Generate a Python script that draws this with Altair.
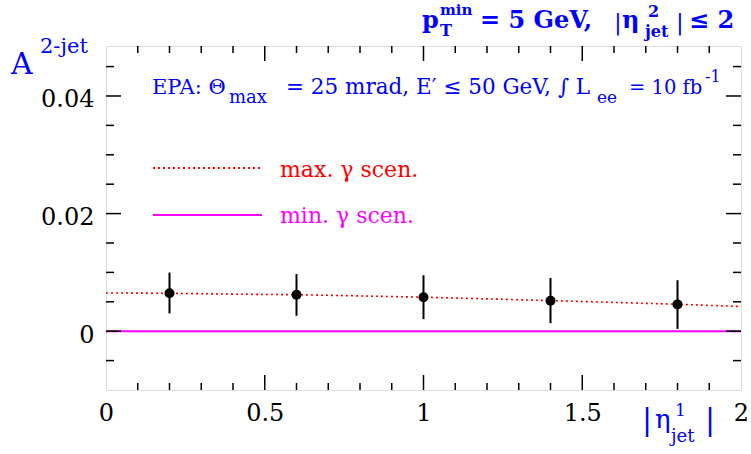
import altair as alt
import pandas as pd

# ---------------- data ----------------
pt_eta = [0.2, 0.6, 1.0, 1.4, 1.8]
pt_val = [0.00644, 0.0062, 0.00576, 0.00518, 0.00456]
pt_lo = [0.00302, 0.00262, 0.00205, 0.00137, 0.00039]
pt_hi = [0.00997, 0.00974, 0.00952, 0.00906, 0.00867]

line_eta = [0.0, 0.2, 0.4, 0.6, 0.8, 1.0, 1.2, 1.4, 1.6, 1.8, 2.0]
max_scen = [0.0065, 0.00645, 0.0063, 0.0062, 0.0060, 0.00578, 0.0055, 0.0052, 0.0049, 0.00458, 0.0042]
min_scen = [0.0, 0.0, 0.0, 0.0, 0.0, 0.0, 0.0, 0.0, 0.0, 0.0, 0.0]

x_major = [0.5, 1.0, 1.5]
x_minor = [0.1, 0.2, 0.3, 0.4, 0.6, 0.7, 0.8, 0.9, 1.1, 1.2, 1.3, 1.4, 1.6, 1.7, 1.8, 1.9]
y_major = [0.0, 0.02, 0.04]
y_minor = [-0.005, 0.005, 0.01, 0.015, 0.025, 0.03, 0.035, 0.045]
x_labels = [0, 0.5, 1, 1.5, 2]
y_labels = [0, 0.02, 0.04]

# ---------------- layout ----------------
L, T, W, H = 106, 46, 635, 344
FONT = "DejaVu Serif"
BLUE = "#0000ff"
RED = "#ff0000"
MAG = "#ff00ff"

xs = alt.Scale(domain=[0, 2], nice=False, zero=False)
ys = alt.Scale(domain=[-0.01, 0.0485], nice=False, zero=False)

pts = pd.DataFrame({"eta": pt_eta, "a": pt_val, "lo": pt_lo, "hi": pt_hi})
lines = pd.DataFrame({"eta": line_eta, "mx": max_scen, "mn": min_scen})

min_line = alt.Chart(lines).mark_line(color=MAG, strokeWidth=2).encode(
    x=alt.X("eta:Q", scale=xs,
            axis=alt.Axis(values=x_labels, format="~g", ticks=False, domain=False, grid=False,
                          labelFont=FONT, labelFontSize=24, labelColor="black",
                          labelPadding=11, labelBaseline="top", title=None,
                          labelFlush=False)),
    y=alt.Y("mn:Q", scale=ys,
            axis=alt.Axis(values=y_labels, format="~g", ticks=False, domain=False, grid=False,
                          labelFont=FONT, labelFontSize=24, labelColor="black",
                          labelPadding=12, labelOffset=4, title=None)),
)
max_line = alt.Chart(lines).mark_line(color=RED, strokeWidth=1.6, strokeDash=[2, 3]).encode(
    x=alt.X("eta:Q", scale=xs), y=alt.Y("mx:Q", scale=ys)
)
err = alt.Chart(pts).mark_rule(color="black", strokeWidth=2).encode(
    x=alt.X("eta:Q", scale=xs), y=alt.Y("lo:Q", scale=ys), y2="hi:Q"
)
dots = alt.Chart(pts).mark_circle(color="black", opacity=1, size=100).encode(
    x=alt.X("eta:Q", scale=xs), y=alt.Y("a:Q", scale=ys)
)


def xticks(vals, length, top):
    df = pd.DataFrame({"v": vals})
    if top:
        y1, y2 = 0, length
    else:
        y1, y2 = H, H - length
    return alt.Chart(df).mark_rule(color="black", strokeWidth=1.5).encode(
        x=alt.X("v:Q", scale=xs), y=alt.value(y1), y2=alt.value(y2))


def yticks(vals, length, right):
    df = pd.DataFrame({"v": vals})
    if right:
        x1, x2 = W, W - length
    else:
        x1, x2 = 0, length
    return alt.Chart(df).mark_rule(color="black", strokeWidth=1.5).encode(
        y=alt.Y("v:Q", scale=ys), x=alt.value(x1), x2=alt.value(x2))


ticks = [
    xticks(x_minor, 7, False), xticks(x_major, 15, False),
    xticks(x_minor, 7, True), xticks(x_major, 15, True),
    yticks(y_minor, 8, False), yticks(y_major, 15, False),
    yticks(y_minor, 8, True), yticks(y_major, 15, True),
]

# legend samples
leg_max = alt.Chart(lines).mark_rule(color=RED, strokeWidth=1.6, strokeDash=[2, 3]).encode(
    x=alt.value(153 - L), x2=alt.value(262 - L), y=alt.value(168 - T))
leg_min = alt.Chart(lines).mark_rule(color=MAG, strokeWidth=1.5).encode(
    x=alt.value(153 - L), x2=alt.value(262 - L), y=alt.value(215 - T))


def txt(s, x, y, size, color=BLUE, bold=False):
    return alt.Chart(pd.DataFrame({"t": [s]})).mark_text(
        font=FONT, fontSize=size, color=color, align="left", baseline="alphabetic",
        fontWeight="bold" if bold else "normal"
    ).encode(text="t:N", x=alt.value(x - L), y=alt.value(y - T))


texts = [
    # top title
    txt("p", 422, 28, 24, bold=True),
    txt("min", 440, 15, 15, bold=True),
    txt("T", 440, 36, 16, bold=True),
    txt("= 5 GeV,", 480, 28, 24, bold=True),
    txt("|", 614, 30, 23),
    txt("η", 622, 28, 24, bold=True),
    txt("2", 648, 17, 16, bold=True),
    txt("jet", 645, 37, 16, bold=True),
    txt("|", 676, 30, 23),
    txt("≤ 2", 689, 28, 24, bold=True),
    # annotation
    txt("EPA: Θ", 152, 94, 21),
    txt("max", 229, 103, 18),
    txt("= 25 mrad, E′ ≤ 50 GeV, ∫ L", 286, 94, 21.5),
    txt("ee", 597, 103, 17),
    txt("= 10 fb", 629, 94, 19.5),
    txt("-1", 705, 82, 16),
    # legend
    txt("max. γ  scen.", 280, 177, 22, color=RED),
    txt("min. γ  scen.", 280, 223, 22, color=MAG),
    # y title
    txt("A", 11, 74, 30),
    txt("2-jet", 40, 53, 21),
    # x title
    txt("|", 642, 430, 30),
    txt("η", 655, 428, 26),
    txt("1", 675, 416, 17),
    txt("jet", 671, 442, 18),
    txt("|", 705, 430, 30),
]

chart = alt.layer(min_line, max_line, err, dots, *ticks, leg_max, leg_min, *texts).properties(
    width=W, height=H,
    autosize=alt.AutoSizeParams(type="none"),
    padding={"left": L, "top": T, "right": 751 - L - W, "bottom": 454 - T - H},
).configure_view(stroke="black", strokeWidth=2).configure(background="white")

chart.save("out.html", embed_options={"renderer": "svg", "actions": False})
